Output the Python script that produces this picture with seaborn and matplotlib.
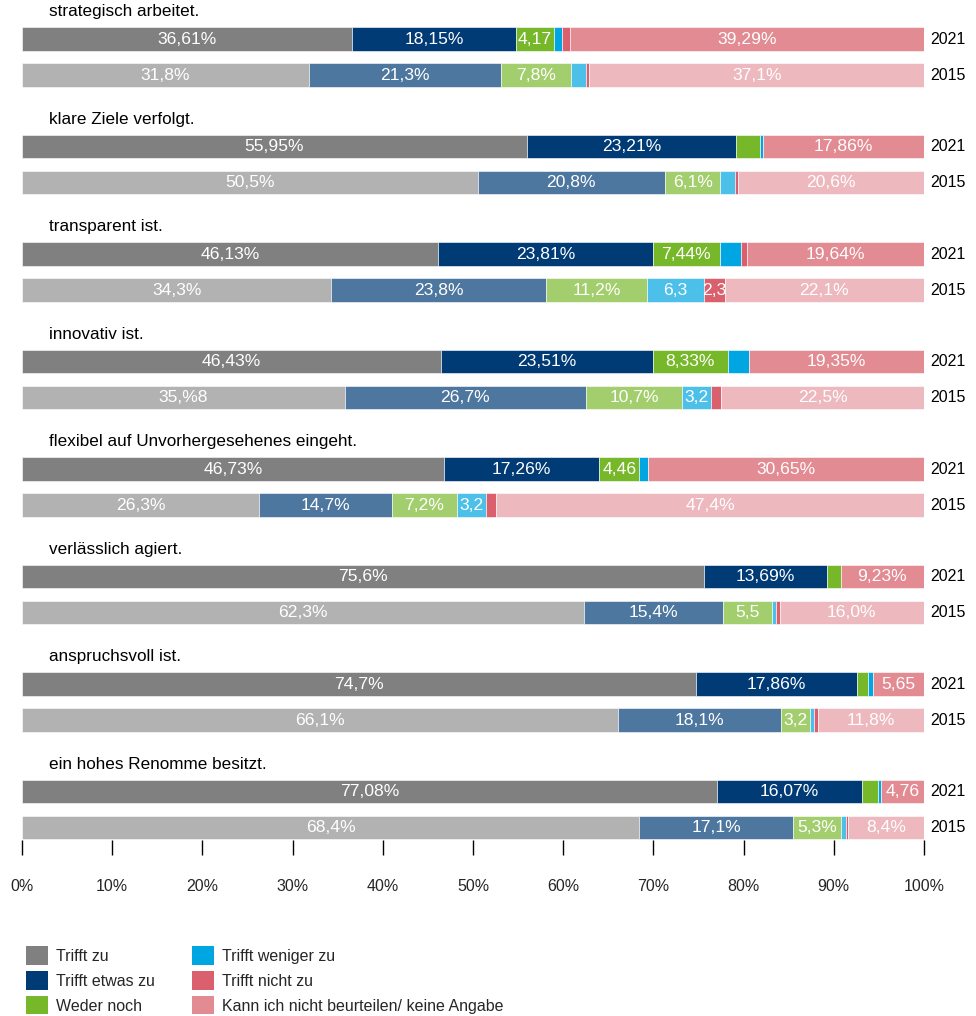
import numpy as np
import pandas as pd
import matplotlib
matplotlib.use('Agg')
import matplotlib.pyplot as plt
import seaborn as sns
from matplotlib.patches import Patch

# ============================================================
# DATA
# ============================================================
categories = ['strategisch arbeitet.', 'klare Ziele verfolgt.', 'transparent ist.',
              'innovativ ist.', 'flexibel auf Unvorhergesehenes eingeht.',
              'verlässlich agiert.', 'anspruchsvoll ist.', 'ein hohes Renomme besitzt.']
answers = ['Trifft zu', 'Trifft etwas zu', 'Weder noch', 'Trifft weniger zu',
           'Trifft nicht zu', 'Kann ich nicht beurteilen/ keine Angabe']
years = ['2021', '2015']

zu_2021 = [36.61, 55.95, 46.13, 46.43, 46.73, 75.6, 74.7, 77.08]
etwas_2021 = [18.15, 23.21, 23.81, 23.51, 17.26, 13.69, 17.86, 16.07]
weder_2021 = [4.17, 2.68, 7.44, 8.33, 4.46, 1.48, 1.2, 1.8]
weniger_2021 = [0.89, 0.3, 2.32, 2.38, 0.9, 0.0, 0.59, 0.29]
nicht_2021 = [0.89, 0.0, 0.66, 0.0, 0.0, 0.0, 0.0, 0.0]
kann_2021 = [39.29, 17.86, 19.64, 19.35, 30.65, 9.23, 5.65, 4.76]

zu_2015 = [31.8, 50.5, 34.3, 35.8, 26.3, 62.3, 66.1, 68.4]
etwas_2015 = [21.3, 20.8, 23.8, 26.7, 14.7, 15.4, 18.1, 17.1]
weder_2015 = [7.8, 6.1, 11.2, 10.7, 7.2, 5.5, 3.2, 5.3]
weniger_2015 = [1.6, 1.6, 6.3, 3.2, 3.2, 0.4, 0.4, 0.5]
nicht_2015 = [0.4, 0.4, 2.3, 1.1, 1.2, 0.4, 0.4, 0.3]
kann_2015 = [37.1, 20.6, 22.1, 22.5, 47.4, 16.0, 11.8, 8.4]

# segment labels as printed in the original ('' = no label)
labels_2021 = [
    ['36,61%', '18,15%', '4,17', '', '', '39,29%'],
    ['55,95%', '23,21%', '', '', '', '17,86%'],
    ['46,13%', '23,81%', '7,44%', '', '', '19,64%'],
    ['46,43%', '23,51%', '8,33%', '', '', '19,35%'],
    ['46,73%', '17,26%', '4,46', '', '', '30,65%'],
    ['75,6%', '13,69%', '', '', '', '9,23%'],
    ['74,7%', '17,86%', '', '', '', '5,65'],
    ['77,08%', '16,07%', '', '', '', '4,76'],
]
labels_2015 = [
    ['31,8%', '21,3%', '7,8%', '', '', '37,1%'],
    ['50,5%', '20,8%', '6,1%', '', '', '20,6%'],
    ['34,3%', '23,8%', '11,2%', '6,3', '2,3', '22,1%'],
    ['35,%8', '26,7%', '10,7%', '3,2', '', '22,5%'],
    ['26,3%', '14,7%', '7,2%', '3,2', '', '47,4%'],
    ['62,3%', '15,4%', '5,5', '', '', '16,0%'],
    ['66,1%', '18,1%', '3,2', '', '', '11,8%'],
    ['68,4%', '17,1%', '5,3%', '', '', '8,4%'],
]

colors_2021 = ['#808080', '#003B76', '#76B82A', '#00A6E2', '#D9606C', '#E28B93']
colors_2015 = ['#B2B2B2', '#4E77A0', '#A3CE6E', '#4DC0EA', '#D9606C', '#EDB8BE']

# ============================================================
# STYLE
# ============================================================
sns.set_theme(style='white')
plt.rcParams['font.family'] = ['Liberation Sans', 'DejaVu Sans']

vals_2021 = np.array([zu_2021, etwas_2021, weder_2021, weniger_2021, nicht_2021, kann_2021]).T
vals_2015 = np.array([zu_2015, etwas_2015, weder_2015, weniger_2015, nicht_2015, kann_2015]).T

fig = plt.figure(figsize=(9.76, 10.16), dpi=100)
ax = fig.add_axes([22 / 976, 1 - 840 / 1016, 902 / 976, 840 / 1016])

offset_2015 = 0.335
bar_h = 0.22
fs = 11.5
fs_bar = 12.6
fs_title = 12.3

for i, cat in enumerate(categories):
    for yr, vals, labs, cols, off in [('2021', vals_2021[i], labels_2021[i], colors_2021, 0.0),
                                      ('2015', vals_2015[i], labels_2015[i], colors_2015, offset_2015)]:
        y = i + off
        left = 0.0
        for v, lab, c in zip(vals, labs, cols):
            if v > 0:
                ax.barh(y, v, left=left, height=bar_h, color=c, edgecolor='white', linewidth=0.4)
            if lab:
                ax.text(left + v / 2, y, lab, ha='center', va='center',
                        color='white', fontsize=fs_bar)
            left += v
        ax.text(1.007, y, yr, transform=ax.get_yaxis_transform(),
                ha='left', va='center', fontsize=fs, color='black')
    ax.text(3.0, i - 0.255, cat, ha='left', va='center', fontsize=fs_title, color='black')

ax.set_xlim(0, 100)
ax.set_ylim(7.451, -0.363)
ax.set_yticks([])
ax.set_xticks(range(0, 101, 10))
ax.set_xticklabels([f'{t}%' for t in range(0, 101, 10)], fontsize=fs)
ax.tick_params(axis='x', bottom=True, length=11, width=1, color='black', pad=17,
               direction='out')
for s in ax.spines.values():
    s.set_visible(False)

handles = [Patch(facecolor=c, edgecolor='none') for c in colors_2021]
fig.legend(handles, answers, ncol=2, loc='upper left',
           bbox_to_anchor=(0.012, 1 - 932 / 1016), frameon=False,
           fontsize=fs, handlelength=1.4, handleheight=1.4,
           handletextpad=0.5, labelspacing=0.4, columnspacing=2.3)

plt.savefig('out.png', dpi=100)
plt.close()
